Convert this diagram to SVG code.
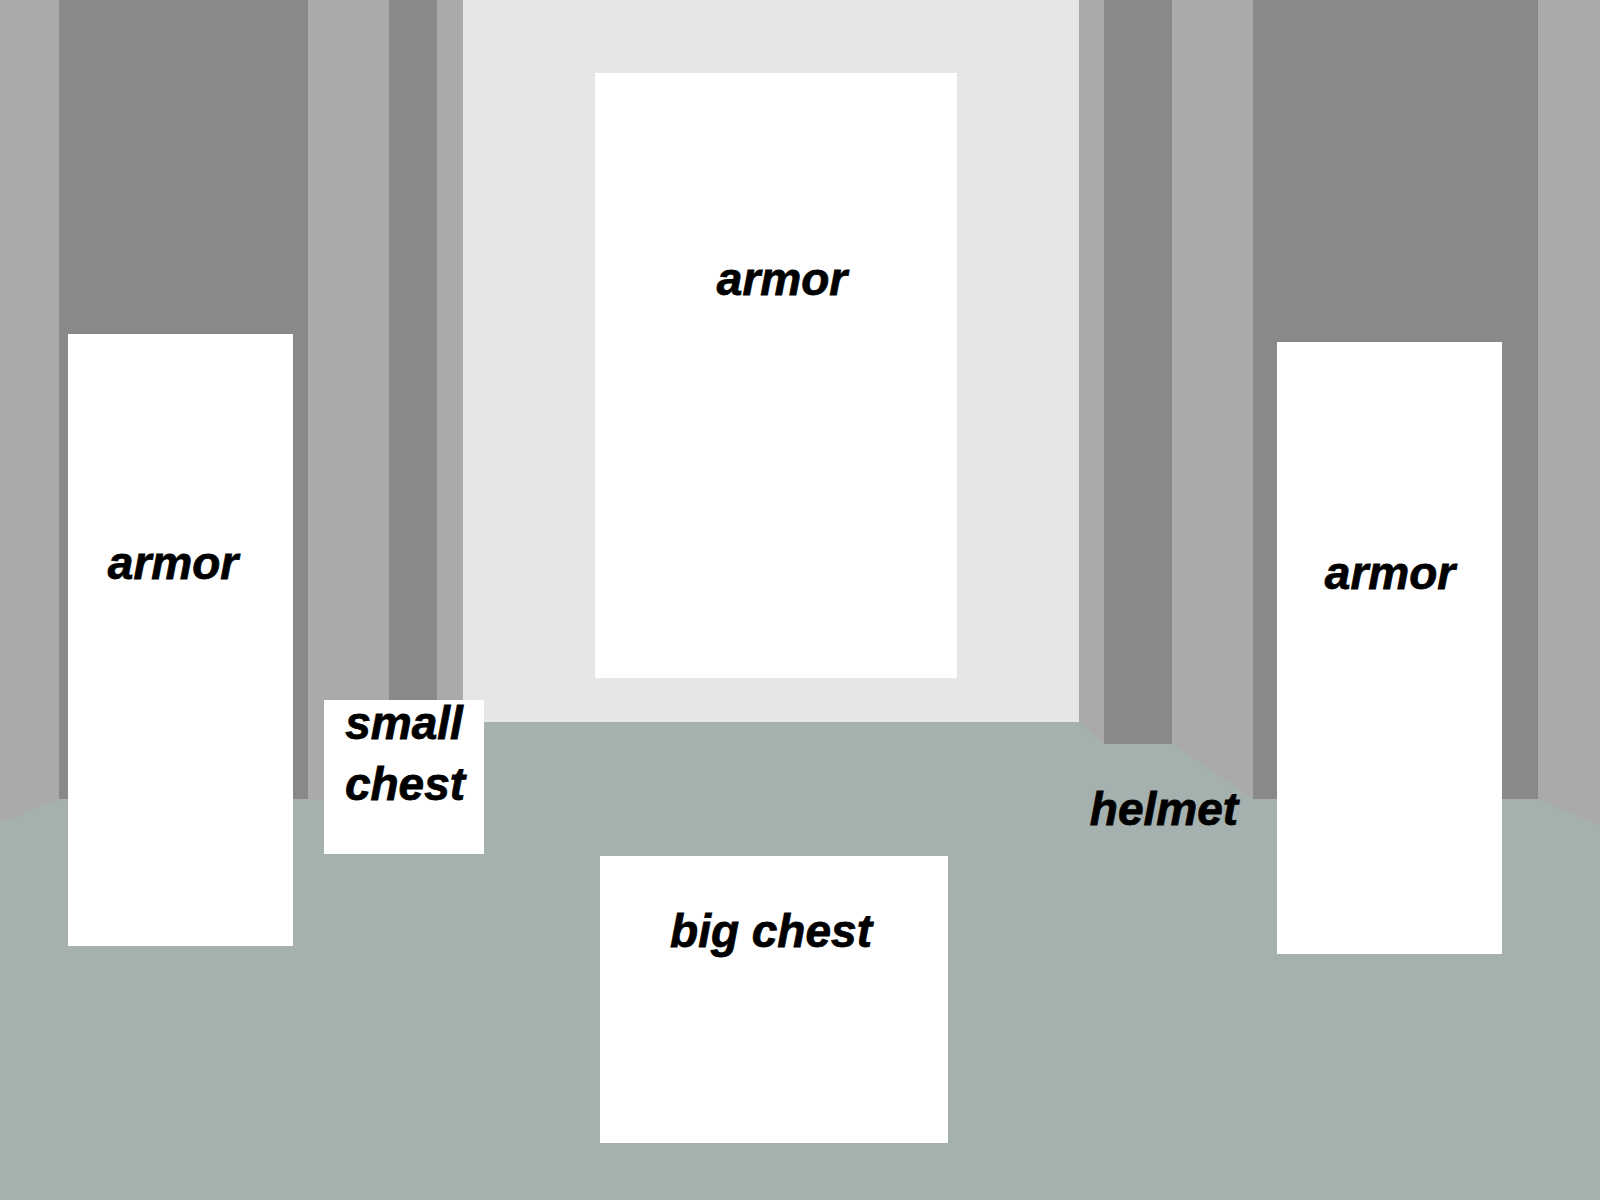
<svg xmlns="http://www.w3.org/2000/svg" width="1600" height="1200" viewBox="0 0 1600 1200">
<style>
.lt{fill:#aaaaaa}
.dk{fill:#898989}
.box{fill:#ffffff}
.lbl{font-family:"Liberation Sans",Arial,sans-serif;font-weight:bold;font-style:italic;font-size:46px;fill:#000;text-anchor:middle;stroke:#000;stroke-width:0.8px}
</style>
<g id="walls">
<rect class="lt" x="0" y="0" width="1600" height="1200"/>
<rect class="dk" x="59" y="0" width="249" height="800"/>
<rect class="dk" x="389" y="0" width="48" height="800"/>
<rect fill="#e6e6e6" x="463" y="0" width="616" height="722"/>
<rect class="dk" x="1104" y="0" width="68" height="745"/>
<rect class="dk" x="1253" y="0" width="285" height="800"/>
</g>
<g id="floor">
<polygon fill="#a5b1af" points="0,823 59,799 463,799 463,722 1079,722 1104,744 1172,744 1253,799 1538,799 1600,826 1600,1200 0,1200"/>
</g>
<g id="armor-left">
<rect class="box" x="68" y="334" width="225" height="612"/>
<text class="lbl" x="173" y="579">armor</text>
</g>
<g id="armor-center">
<rect class="box" x="595" y="73" width="362" height="605"/>
<text class="lbl" x="782" y="295">armor</text>
</g>
<g id="armor-right">
<rect class="box" x="1277" y="342" width="225" height="612"/>
<text class="lbl" x="1390" y="589">armor</text>
</g>
<g id="small-chest">
<rect class="box" x="324" y="700" width="160" height="154"/>
<text class="lbl" x="404" y="739">small</text>
<text class="lbl" x="405" y="800">chest</text>
</g>
<g id="big-chest">
<rect class="box" x="600" y="856" width="348" height="287"/>
<text class="lbl" x="771" y="947">big chest</text>
</g>
<g id="helmet">
<text class="lbl" x="1164" y="825">helmet</text>
</g>
<g id="connectors"/>
</svg>
